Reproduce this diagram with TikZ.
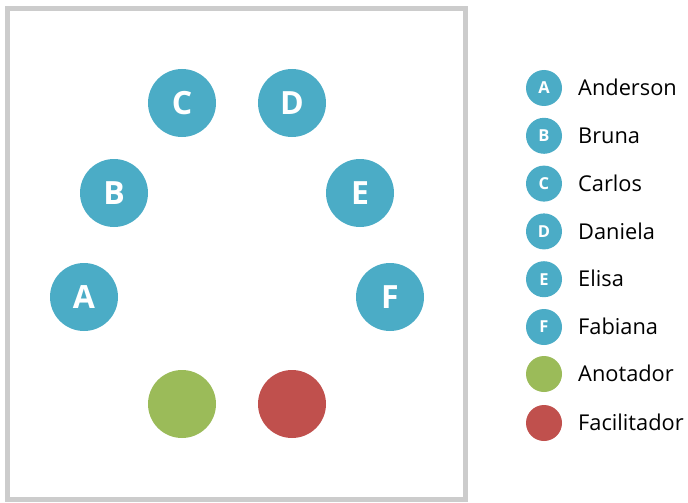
\documentclass[tikz,border=0pt]{standalone}
\usepackage{fontspec}
\setmainfont{Open Sans}
\definecolor{seatblue}{HTML}{4BACC6}
\definecolor{notegreen}{HTML}{9BBB59}
\definecolor{leadred}{HTML}{C0504D}
\definecolor{framegray}{HTML}{CCCCCC}

\begin{document}
\begin{tikzpicture}[x=1pt,y=-1pt,
  seat/.style={circle,fill=seatblue,minimum size=68pt,inner sep=0pt,text=white,
    font=\fontsize{32}{32}\selectfont\bfseries},
  keyseat/.style={circle,fill=seatblue,minimum size=36pt,inner sep=0pt,text=white,
    font=\fontsize{16.5}{16.5}\selectfont\bfseries},
  keyname/.style={anchor=base west,inner sep=0pt,font=\fontsize{21.8}{21.8}\selectfont}]
  \useasboundingbox (0,0) rectangle (688,503);
  \draw[framegray,line width=5pt] (7.5,8.5) rectangle (465,499);
  % seats round the table
  \node[seat] (A) at (84,297) {A};
  \node[seat] (B) at (114,193) {B};
  \node[seat] (C) at (182,103) {C};
  \node[seat] (D) at (292,103) {D};
  \node[seat] (E) at (360,193) {E};
  \node[seat] (F) at (390,297) {F};
  \node[seat,fill=notegreen] (anot) at (182,404) {};
  \node[seat,fill=leadred] (facil) at (292,404) {};
  % legend
  \foreach \k/\n [count=\i] in {A/Anderson,B/Bruna,C/Carlos,D/Daniela,E/Elisa,F/Fabiana}{
    \node[keyseat] (key\k) at (544,40.2+47.8*\i) {\k};
    \node[keyname] (name\k) at (578,47.9+47.8*\i) {\n};
  }
  \node[keyseat,fill=notegreen] (keyanot) at (544,374) {};
  \node[keyname] (nameanot) at (578,381.7) {Anotador};
  \node[keyseat,fill=leadred] (keyfacil) at (544,423) {};
  \node[keyname] (namefacil) at (578,430.7) {Facilitador};
\end{tikzpicture}
\end{document}
